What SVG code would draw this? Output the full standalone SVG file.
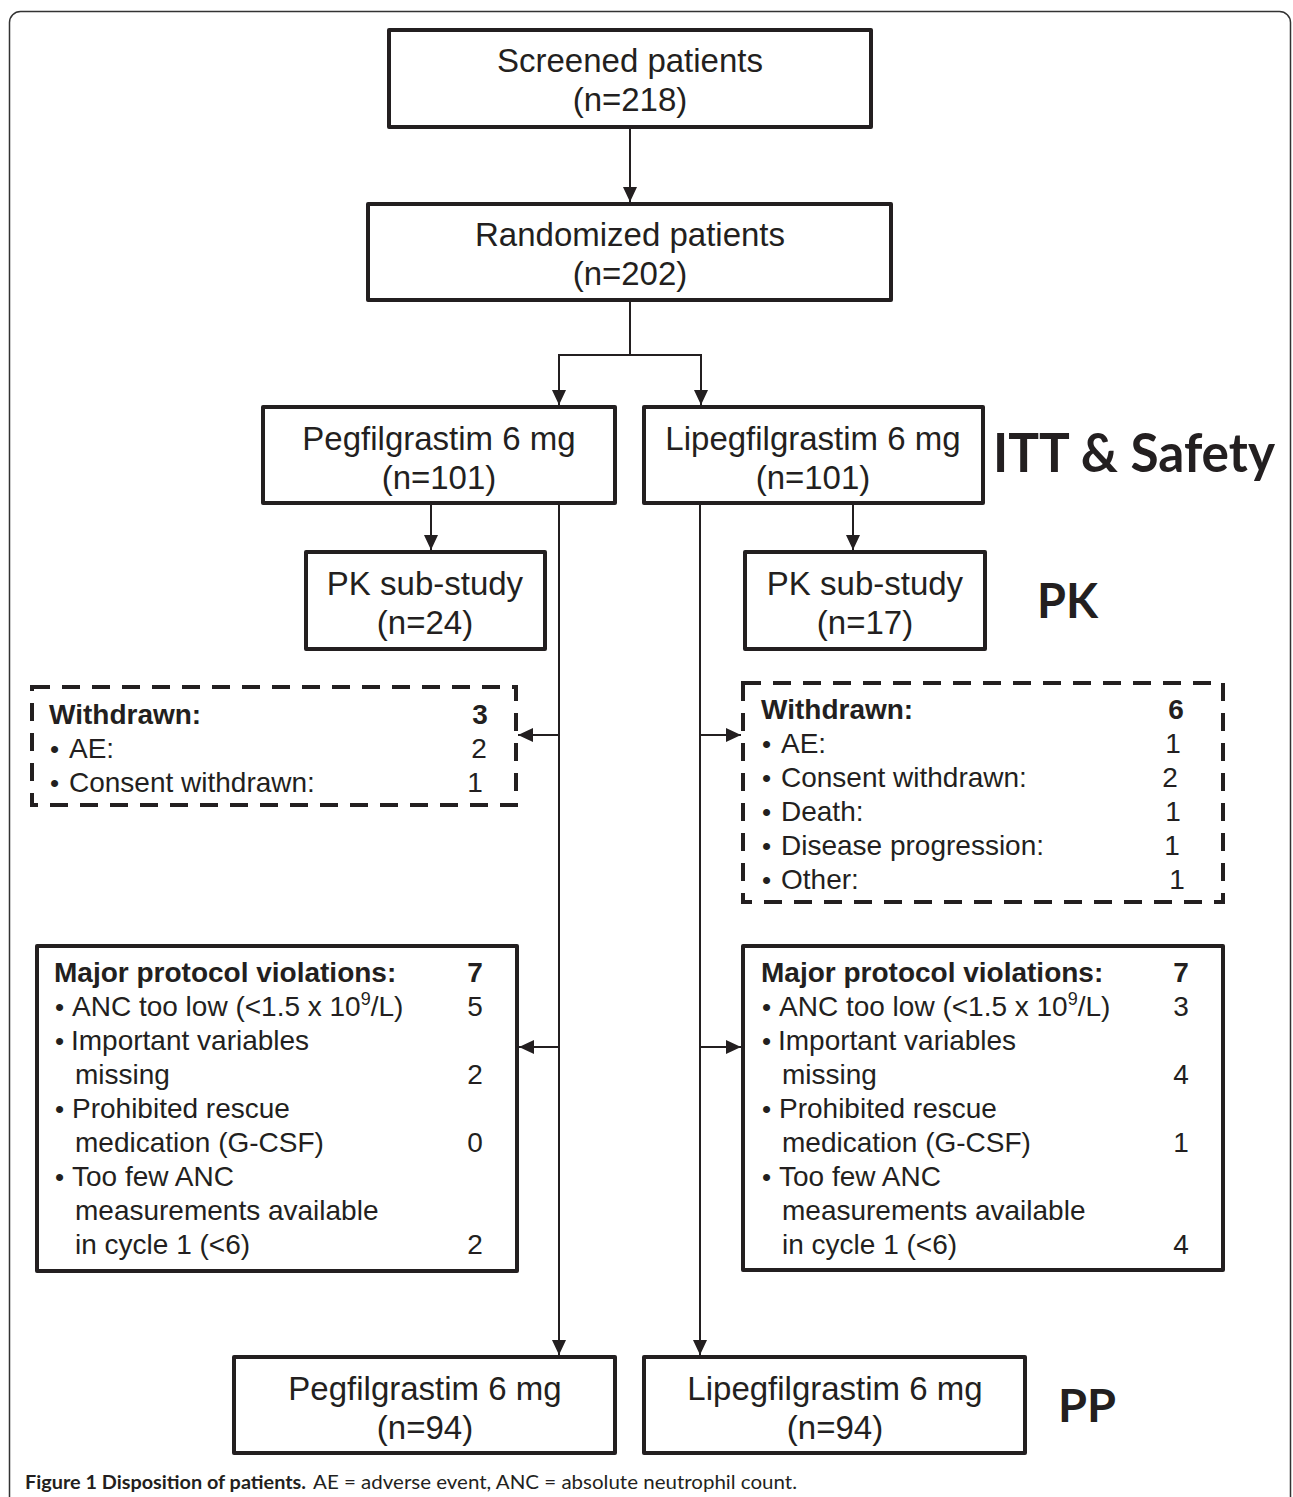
<svg xmlns="http://www.w3.org/2000/svg" width="1293" height="1497" viewBox="0 0 1293 1497">
<defs>
<marker id="arr" markerUnits="userSpaceOnUse" markerWidth="16" markerHeight="14" refX="15" refY="7" orient="auto">
<path d="M0,0 L15,7 L0,14 z" fill="#231f20"/>
</marker>
<style>
.box{fill:#fff;stroke:#231f20;stroke-width:4;stroke-linejoin:round}
.dash{fill:#fff;stroke:#231f20;stroke-width:4;stroke-dasharray:18 12}
.con{fill:none;stroke:#231f20;stroke-width:2}
.t{font-family:"Liberation Sans",Arial,sans-serif;font-size:33px;fill:#231f20;text-anchor:middle}
.s{font-family:"Liberation Sans",Arial,sans-serif;font-size:28px;fill:#231f20}
.b{font-weight:bold}
.n{text-anchor:middle}
.bul{font-size:26px}
.lab{font-family:Lato,"Open Sans",sans-serif;font-weight:bold;fill:#231f20}
.cap{font-family:Lato,"Open Sans",sans-serif;font-size:19px;fill:#231f20}
</style>
</defs>
<rect x="9.5" y="11.5" width="1281" height="1600" rx="11" fill="none" stroke="#333" stroke-width="1.5"/>

<g id="connectors">
<line class="con" x1="630" y1="128" x2="630" y2="202" marker-end="url(#arr)"/>
<polyline class="con" points="630,301 630,355 559,355 559,405" marker-end="url(#arr)"/>
<polyline class="con" points="630,355 701,355 701,405" marker-end="url(#arr)"/>
<line class="con" x1="431" y1="504" x2="431" y2="550" marker-end="url(#arr)"/>
<line class="con" x1="853" y1="504" x2="853" y2="550" marker-end="url(#arr)"/>
<line class="con" x1="559" y1="504" x2="559" y2="1355" marker-end="url(#arr)"/>
<line class="con" x1="700" y1="504" x2="700" y2="1355" marker-end="url(#arr)"/>
<line class="con" x1="559" y1="735" x2="518" y2="735" marker-end="url(#arr)"/>
<line class="con" x1="700" y1="735" x2="741" y2="735" marker-end="url(#arr)"/>
<line class="con" x1="559" y1="1047" x2="519" y2="1047" marker-end="url(#arr)"/>
<line class="con" x1="700" y1="1047" x2="741" y2="1047" marker-end="url(#arr)"/>
</g>

<g id="screened">
<rect class="box" x="389" y="30" width="482" height="97"/>
<text class="t" x="630" y="72">Screened patients</text>
<text class="t" x="630" y="111">(n=218)</text>
</g>

<g id="randomized">
<rect class="box" x="368" y="204" width="523" height="96"/>
<text class="t" x="630" y="246">Randomized patients</text>
<text class="t" x="630" y="285">(n=202)</text>
</g>

<g id="peg">
<rect class="box" x="263" y="407" width="352" height="96"/>
<text class="t" x="439" y="450">Pegfilgrastim 6 mg</text>
<text class="t" x="439" y="489">(n=101)</text>
</g>

<g id="lipeg">
<rect class="box" x="644" y="407" width="339" height="96"/>
<text class="t" x="813" y="450">Lipegfilgrastim 6 mg</text>
<text class="t" x="813" y="489">(n=101)</text>
</g>

<g id="itt-label">
<text class="lab" x="993" y="472" font-size="53" textLength="282" lengthAdjust="spacingAndGlyphs">ITT &amp; Safety</text>
</g>

<g id="pk-peg">
<rect class="box" x="306" y="552" width="239" height="97"/>
<text class="t" x="425" y="595">PK sub-study</text>
<text class="t" x="425" y="634">(n=24)</text>
</g>

<g id="pk-lipeg">
<rect class="box" x="745" y="552" width="240" height="97"/>
<text class="t" x="865" y="595">PK sub-study</text>
<text class="t" x="865" y="634">(n=17)</text>
</g>

<g id="pk-label">
<text class="lab" x="1037" y="618" font-size="47" textLength="61" lengthAdjust="spacingAndGlyphs">PK</text>
</g>

<g id="withdrawn-peg">
<rect class="dash" x="32" y="687" width="484" height="118"/>
<text class="s b" x="49" y="724">Withdrawn:</text>
<text class="s b n" x="480" y="724">3</text>
<text class="s" x="50" y="758"><tspan class="bul">•</tspan><tspan x="69">AE:</tspan></text>
<text class="s n" x="479" y="758">2</text>
<text class="s" x="50" y="792"><tspan class="bul">•</tspan><tspan x="69">Consent withdrawn:</tspan></text>
<text class="s n" x="475" y="792">1</text>
</g>

<g id="withdrawn-lipeg">
<rect class="dash" x="743" y="683" width="480" height="219"/>
<text class="s b" x="761" y="719">Withdrawn:</text>
<text class="s b n" x="1176" y="719">6</text>
<text class="s" x="762" y="753"><tspan class="bul">•</tspan><tspan x="781">AE:</tspan></text>
<text class="s n" x="1173" y="753">1</text>
<text class="s" x="762" y="787"><tspan class="bul">•</tspan><tspan x="781">Consent withdrawn:</tspan></text>
<text class="s n" x="1170" y="787">2</text>
<text class="s" x="762" y="821"><tspan class="bul">•</tspan><tspan x="781">Death:</tspan></text>
<text class="s n" x="1173" y="821">1</text>
<text class="s" x="762" y="855"><tspan class="bul">•</tspan><tspan x="781">Disease progression:</tspan></text>
<text class="s n" x="1172" y="855">1</text>
<text class="s" x="762" y="889"><tspan class="bul">•</tspan><tspan x="781">Other:</tspan></text>
<text class="s n" x="1177" y="889">1</text>
</g>

<g id="violations-peg">
<rect class="box" x="37" y="946" width="480" height="325"/>
<text class="s b" x="54" y="982">Major protocol violations:</text>
<text class="s b n" x="475" y="982">7</text>
<text class="s" x="55" y="1016"><tspan class="bul">•</tspan><tspan x="72">ANC too low (&lt;1.5 x 10</tspan><tspan font-size="18" dy="-11">9</tspan><tspan dy="11">/L)</tspan></text>
<text class="s n" x="475" y="1016">5</text>
<text class="s" x="55" y="1050"><tspan class="bul">•</tspan><tspan x="71">Important variables</tspan></text>
<text class="s" x="75" y="1084">missing</text>
<text class="s n" x="475" y="1084">2</text>
<text class="s" x="55" y="1118"><tspan class="bul">•</tspan><tspan x="72">Prohibited rescue</tspan></text>
<text class="s" x="75" y="1152">medication (G-CSF)</text>
<text class="s n" x="475" y="1152">0</text>
<text class="s" x="55" y="1186"><tspan class="bul">•</tspan><tspan x="72">Too few ANC</tspan></text>
<text class="s" x="75" y="1220">measurements available</text>
<text class="s" x="75" y="1254">in cycle 1 (&lt;6)</text>
<text class="s n" x="475" y="1254">2</text>
</g>

<g id="violations-lipeg">
<rect class="box" x="743" y="946" width="480" height="324"/>
<text class="s b" x="761" y="982">Major protocol violations:</text>
<text class="s b n" x="1181" y="982">7</text>
<text class="s" x="762" y="1016"><tspan class="bul">•</tspan><tspan x="779">ANC too low (&lt;1.5 x 10</tspan><tspan font-size="18" dy="-11">9</tspan><tspan dy="11">/L)</tspan></text>
<text class="s n" x="1181" y="1016">3</text>
<text class="s" x="762" y="1050"><tspan class="bul">•</tspan><tspan x="778">Important variables</tspan></text>
<text class="s" x="782" y="1084">missing</text>
<text class="s n" x="1181" y="1084">4</text>
<text class="s" x="762" y="1118"><tspan class="bul">•</tspan><tspan x="779">Prohibited rescue</tspan></text>
<text class="s" x="782" y="1152">medication (G-CSF)</text>
<text class="s n" x="1181" y="1152">1</text>
<text class="s" x="762" y="1186"><tspan class="bul">•</tspan><tspan x="779">Too few ANC</tspan></text>
<text class="s" x="782" y="1220">measurements available</text>
<text class="s" x="782" y="1254">in cycle 1 (&lt;6)</text>
<text class="s n" x="1181" y="1254">4</text>
</g>

<g id="pp-peg">
<rect class="box" x="234" y="1357" width="381" height="96"/>
<text class="t" x="425" y="1400">Pegfilgrastim 6 mg</text>
<text class="t" x="425" y="1439">(n=94)</text>
</g>

<g id="pp-lipeg">
<rect class="box" x="644" y="1357" width="381" height="96"/>
<text class="t" x="835" y="1400">Lipegfilgrastim 6 mg</text>
<text class="t" x="835" y="1439">(n=94)</text>
</g>

<g id="pp-label">
<text class="lab" x="1058" y="1422" font-size="46" textLength="58" lengthAdjust="spacingAndGlyphs">PP</text>
</g>

<g id="caption">
<text class="cap" x="25" y="1489" font-weight="bold" textLength="281" lengthAdjust="spacingAndGlyphs">Figure 1 Disposition of patients.</text>
<text class="cap" x="313" y="1489" textLength="484" lengthAdjust="spacingAndGlyphs">AE = adverse event, ANC = absolute neutrophil count.</text>
</g>
</svg>
